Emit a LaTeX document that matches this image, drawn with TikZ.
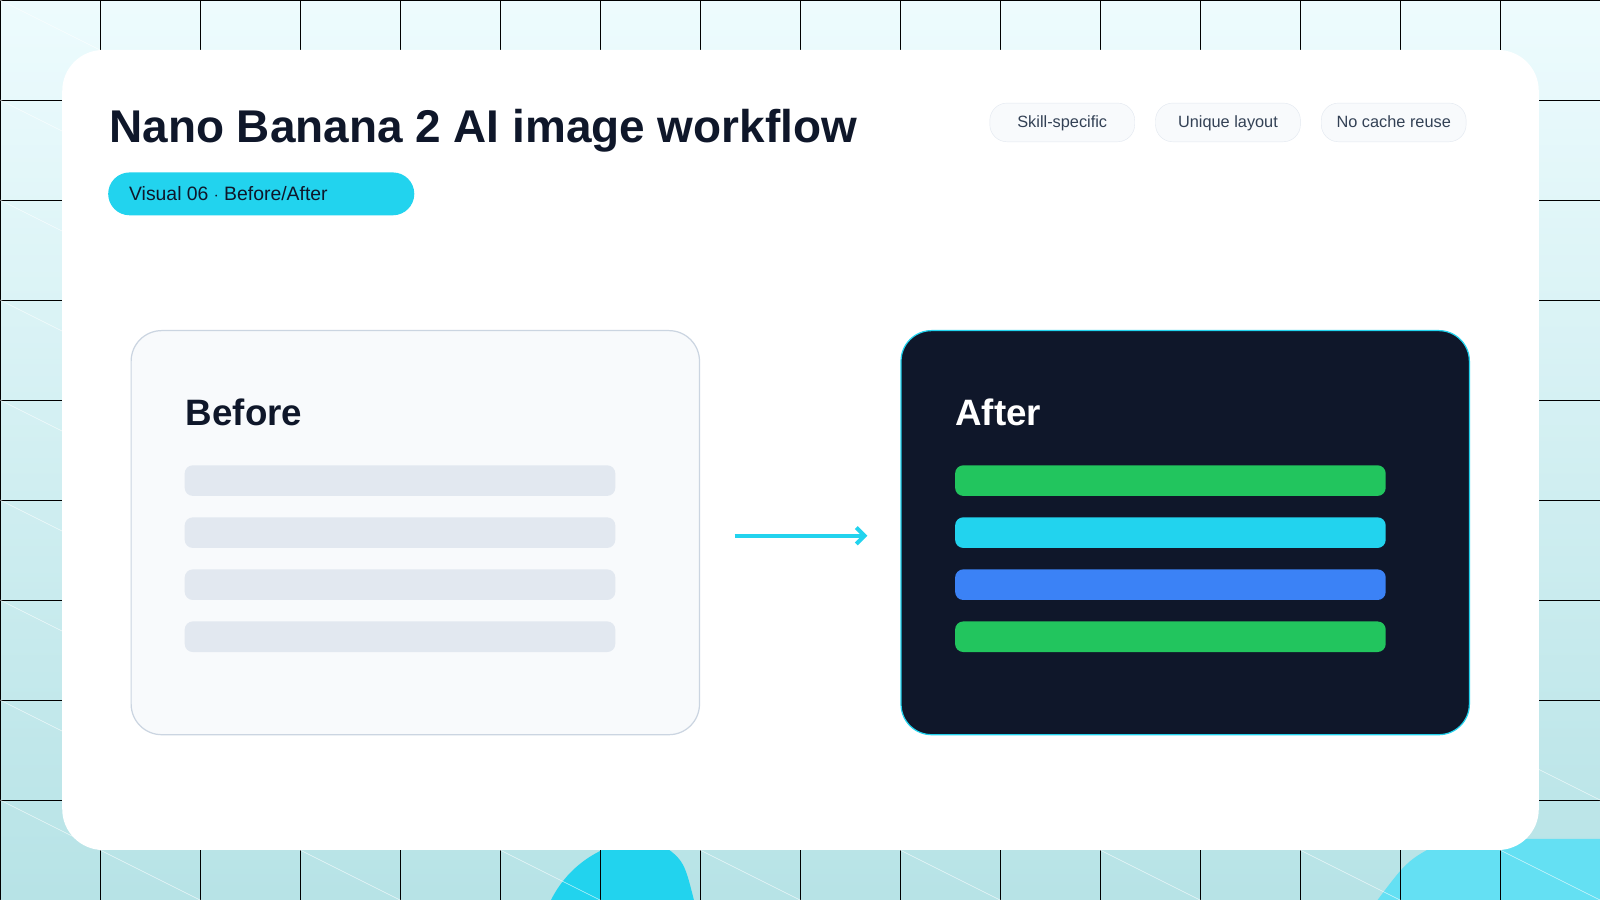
\documentclass[tikz,border=0pt]{standalone}
\usepackage{fontspec}
\setmainfont{Liberation Sans}
\usetikzlibrary{positioning,arrows.meta}
\definecolor{ink}{HTML}{0F172A}
\definecolor{cyanx}{HTML}{22D3EE}
\definecolor{greenx}{HTML}{22C55E}
\definecolor{bluex}{HTML}{3B82F6}
\definecolor{paper}{HTML}{F8FAFC}
\definecolor{barx}{HTML}{E2E8F0}
\definecolor{edgex}{HTML}{CBD5E1}
\definecolor{tagtext}{HTML}{334155}
\tikzset{
  panel/.style={rounded corners=30pt, minimum width=557pt, minimum height=396pt, line width=1.2pt, inner sep=0pt},
  bar/.style={rounded corners=8pt, minimum width=422pt, minimum height=30pt, inner sep=0pt},
  tag/.style={draw=barx, fill=paper, rounded corners=17pt, minimum width=142pt, minimum height=38pt, text height=12pt, text depth=3pt, text=tagtext, font=\fontsize{16}{18}\selectfont, inner sep=0pt},
  heading/.style={font=\fontsize{36}{40}\selectfont\bfseries, anchor=west, inner sep=0pt}
}
\begin{document}
\begin{tikzpicture}[x=1pt, y=1pt]
  \useasboundingbox (0,0) rectangle (1568,882);
  % backdrop
  \shade[top color=cyanx!8, bottom color=cyanx!40!teal!30] (0,0) rectangle (1568,882);
  \fill[cyanx] (540,0) .. controls (560,40) and (600,60) .. (640,60) .. controls (670,40) .. (680,0) -- cycle;
  \fill[cyanx!70] (1350,0) .. controls (1380,40) .. (1420,60) -- (1568,60) -- (1568,0) -- cycle;
  \foreach \i in {0,...,16} \draw[black, line width=0.6pt] (\i*98,0) -- (\i*98,882);
  \foreach \j in {0,...,9} \draw[black, line width=0.6pt] (0,882-\j*98) -- (1568,882-\j*98);
  \foreach \j in {-8,...,9} \draw[white, line width=0.6pt, opacity=0.7] (0,\j*98) -- (1568,\j*98-784);
  % card
  \fill[white, rounded corners=40pt] (61,49) rectangle (1508,833);
  \node[heading, text=ink, font=\fontsize{45}{50}\selectfont\bfseries] (title) at (107,754) {Nano Banana 2 AI image workflow};
  \node[fill=cyanx, rounded corners=21pt, minimum width=300pt, minimum height=42pt, inner sep=0pt] (pill) at (256,692) {};
  \node[anchor=west, text=ink, font=\fontsize{19}{22}\selectfont] (pilltext) at (123,692) {Visual 06 $\cdot$ Before/After};
  \node[tag] (tagA) at (1041,762) {Skill-specific};
  \node[tag, right=20pt of tagA] (tagB) {Unique layout};
  \node[tag, right=20pt of tagB] (tagC) {No cache reuse};
  % before / after
  \node[panel, draw=edgex, fill=paper] (before) at (407,360) {};
  \node[heading, text=ink] (beforetitle) at (182,478) {Before};
  \foreach \k in {0,...,3}
    \node[bar, fill=barx] (b\k) at (392,411-\k*51) {};
  \node[panel, draw=cyanx, fill=ink] (after) at (1161.5,360) {};
  \node[heading, text=white] (aftertitle) at (936,478) {After};
  \foreach \k/\c in {0/greenx,1/cyanx,2/bluex,3/greenx}
    \node[bar, fill=\c] (a\k) at (1147,411-\k*51) {};
  \coordinate (arrowstart) at (720,357);
  \coordinate (arrowend) at (850,357);
  \draw[cyanx, line width=4pt, -{Straight Barb[length=8pt]}] (arrowstart) -- (arrowend);
\end{tikzpicture}
\end{document}
